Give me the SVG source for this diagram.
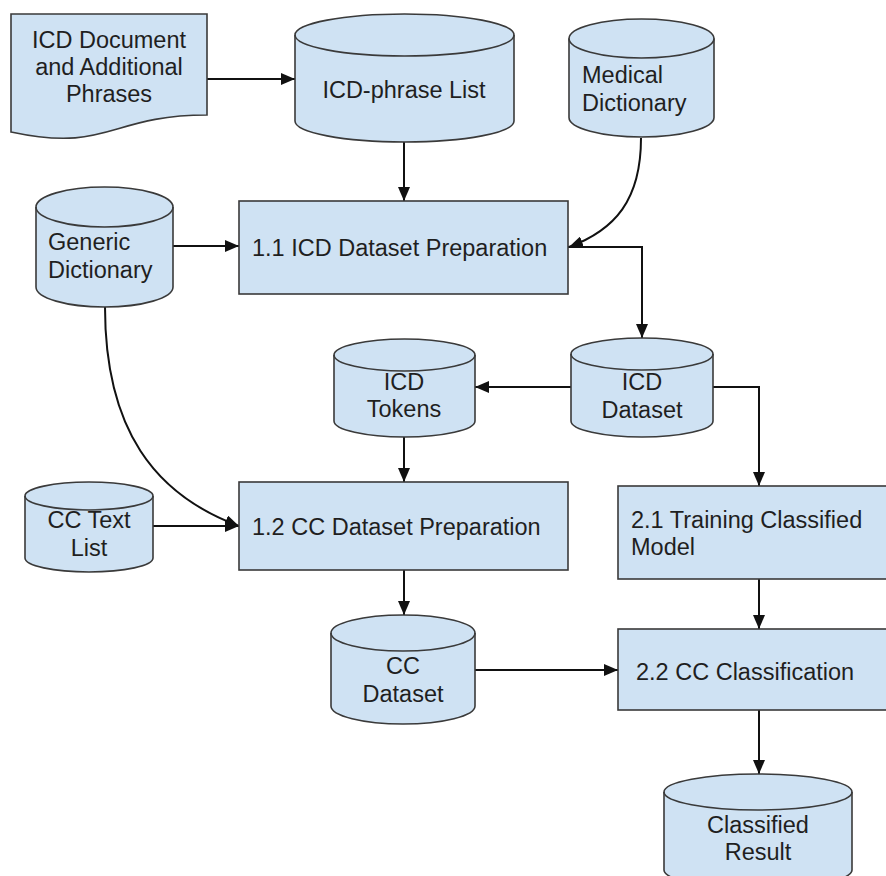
<svg xmlns="http://www.w3.org/2000/svg" width="886" height="876" viewBox="0 0 886 876">
  <style>
    .shape { fill: #cfe2f3; stroke: #3a3a3a; stroke-width: 1.6; }
    .rim { fill: none; stroke: #3a3a3a; stroke-width: 1.6; }
    .label { font-family: "Liberation Sans", Arial, sans-serif; font-size: 23.5px; fill: #1f1f1f; }
    .mid { text-anchor: middle; }
    .wire { fill: none; stroke: #111; stroke-width: 2; marker-end: url(#arrow); }
  </style>
  <defs>
    <marker id="arrow" markerUnits="userSpaceOnUse" markerWidth="14" markerHeight="12" refX="14" refY="6" orient="auto">
      <path d="M0,0 L14,6 L0,12 Z" fill="#111"/>
    </marker>
  </defs>

  <rect width="886" height="876" fill="#ffffff"/>

  <!-- connectors -->
  <g id="connectors">
    <path class="wire" d="M207,79 H295"/>
    <path class="wire" d="M404,142 V201"/>
    <path class="wire" d="M641,138 C641,200 615,230 569,247"/>
    <path class="wire" d="M173,246 H239"/>
    <path class="wire" d="M568,247 H642 V338"/>
    <path class="wire" d="M571,387 H475"/>
    <path class="wire" d="M713,387 H759 V486"/>
    <path class="wire" d="M404,437 V482"/>
    <path class="wire" d="M105,307 C105,430 155,495 239,526"/>
    <path class="wire" d="M153,526 H239"/>
    <path class="wire" d="M404,570 V615"/>
    <path class="wire" d="M475,670 H618"/>
    <path class="wire" d="M759,579 V629"/>
    <path class="wire" d="M759,710 V774"/>
  </g>

  <!-- source document -->
  <g id="icd-document">
    <path class="shape" d="M11,14 H207 V115 C109,115 109,153 11,132 Z"/>
    <text class="label mid" x="109" y="48">ICD Document</text>
    <text class="label mid" x="109" y="75">and Additional</text>
    <text class="label mid" x="109" y="102">Phrases</text>
  </g>

  <g id="icd-phrase-list">
    <path class="shape" d="M295,35 A109.5,21 0 0 1 514,35 V121 A109.5,21 0 0 1 295,121 Z"/>
    <path class="rim" d="M295,35 A109.5,21 0 0 0 514,35"/>
    <text class="label mid" x="404" y="98">ICD-phrase List</text>
  </g>

  <g id="medical-dictionary">
    <path class="shape" d="M569,38.5 A72.5,19.5 0 0 1 714,38.5 V117.5 A72.5,19.5 0 0 1 569,117.5 Z"/>
    <path class="rim" d="M569,38.5 A72.5,19.5 0 0 0 714,38.5"/>
    <text class="label" x="582" y="83">Medical</text>
    <text class="label" x="582" y="111">Dictionary</text>
  </g>

  <g id="generic-dictionary">
    <path class="shape" d="M36,207 A68.5,20 0 0 1 173,207 V287 A68.5,20 0 0 1 36,287 Z"/>
    <path class="rim" d="M36,207 A68.5,20 0 0 0 173,207"/>
    <text class="label" x="48" y="250">Generic</text>
    <text class="label" x="48" y="278">Dictionary</text>
  </g>

  <g id="icd-dataset-preparation">
    <rect class="shape" x="239" y="201" width="329" height="93"/>
    <text class="label" x="252" y="256">1.1 ICD Dataset Preparation</text>
  </g>

  <g id="icd-tokens">
    <path class="shape" d="M334,355 A70.5,16 0 0 1 475,355 V421 A70.5,16 0 0 1 334,421 Z"/>
    <path class="rim" d="M334,355 A70.5,16 0 0 0 475,355"/>
    <text class="label mid" x="404" y="390">ICD</text>
    <text class="label mid" x="404" y="417">Tokens</text>
  </g>

  <g id="icd-dataset">
    <path class="shape" d="M571,354 A71,16 0 0 1 713,354 V421 A71,16 0 0 1 571,421 Z"/>
    <path class="rim" d="M571,354 A71,16 0 0 0 713,354"/>
    <text class="label mid" x="642" y="390">ICD</text>
    <text class="label mid" x="642" y="418">Dataset</text>
  </g>

  <g id="cc-text-list">
    <path class="shape" d="M25,496 A64,14 0 0 1 153,496 V558 A64,14 0 0 1 25,558 Z"/>
    <path class="rim" d="M25,496 A64,14 0 0 0 153,496"/>
    <text class="label mid" x="89" y="528">CC Text</text>
    <text class="label mid" x="89" y="556">List</text>
  </g>

  <g id="cc-dataset-preparation">
    <rect class="shape" x="239" y="482" width="329" height="88"/>
    <text class="label" x="252" y="535">1.2 CC Dataset Preparation</text>
  </g>

  <g id="training-classified-model">
    <rect class="shape" x="618" y="486" width="280" height="93"/>
    <text class="label" x="631" y="528">2.1 Training Classified</text>
    <text class="label" x="631" y="555">Model</text>
  </g>

  <g id="cc-dataset">
    <path class="shape" d="M331,633 A72,18 0 0 1 475,633 V706 A72,18 0 0 1 331,706 Z"/>
    <path class="rim" d="M331,633 A72,18 0 0 0 475,633"/>
    <text class="label mid" x="403" y="674">CC</text>
    <text class="label mid" x="403" y="702">Dataset</text>
  </g>

  <g id="cc-classification">
    <rect class="shape" x="618" y="629" width="280" height="81"/>
    <text class="label" x="636" y="680">2.2 CC Classification</text>
  </g>

  <g id="classified-result">
    <path class="shape" d="M664,792 A94,18 0 0 1 852,792 V870 A94,18 0 0 1 664,870 Z"/>
    <path class="rim" d="M664,792 A94,18 0 0 0 852,792"/>
    <text class="label mid" x="758" y="833">Classified</text>
    <text class="label mid" x="758" y="860">Result</text>
  </g>
</svg>
